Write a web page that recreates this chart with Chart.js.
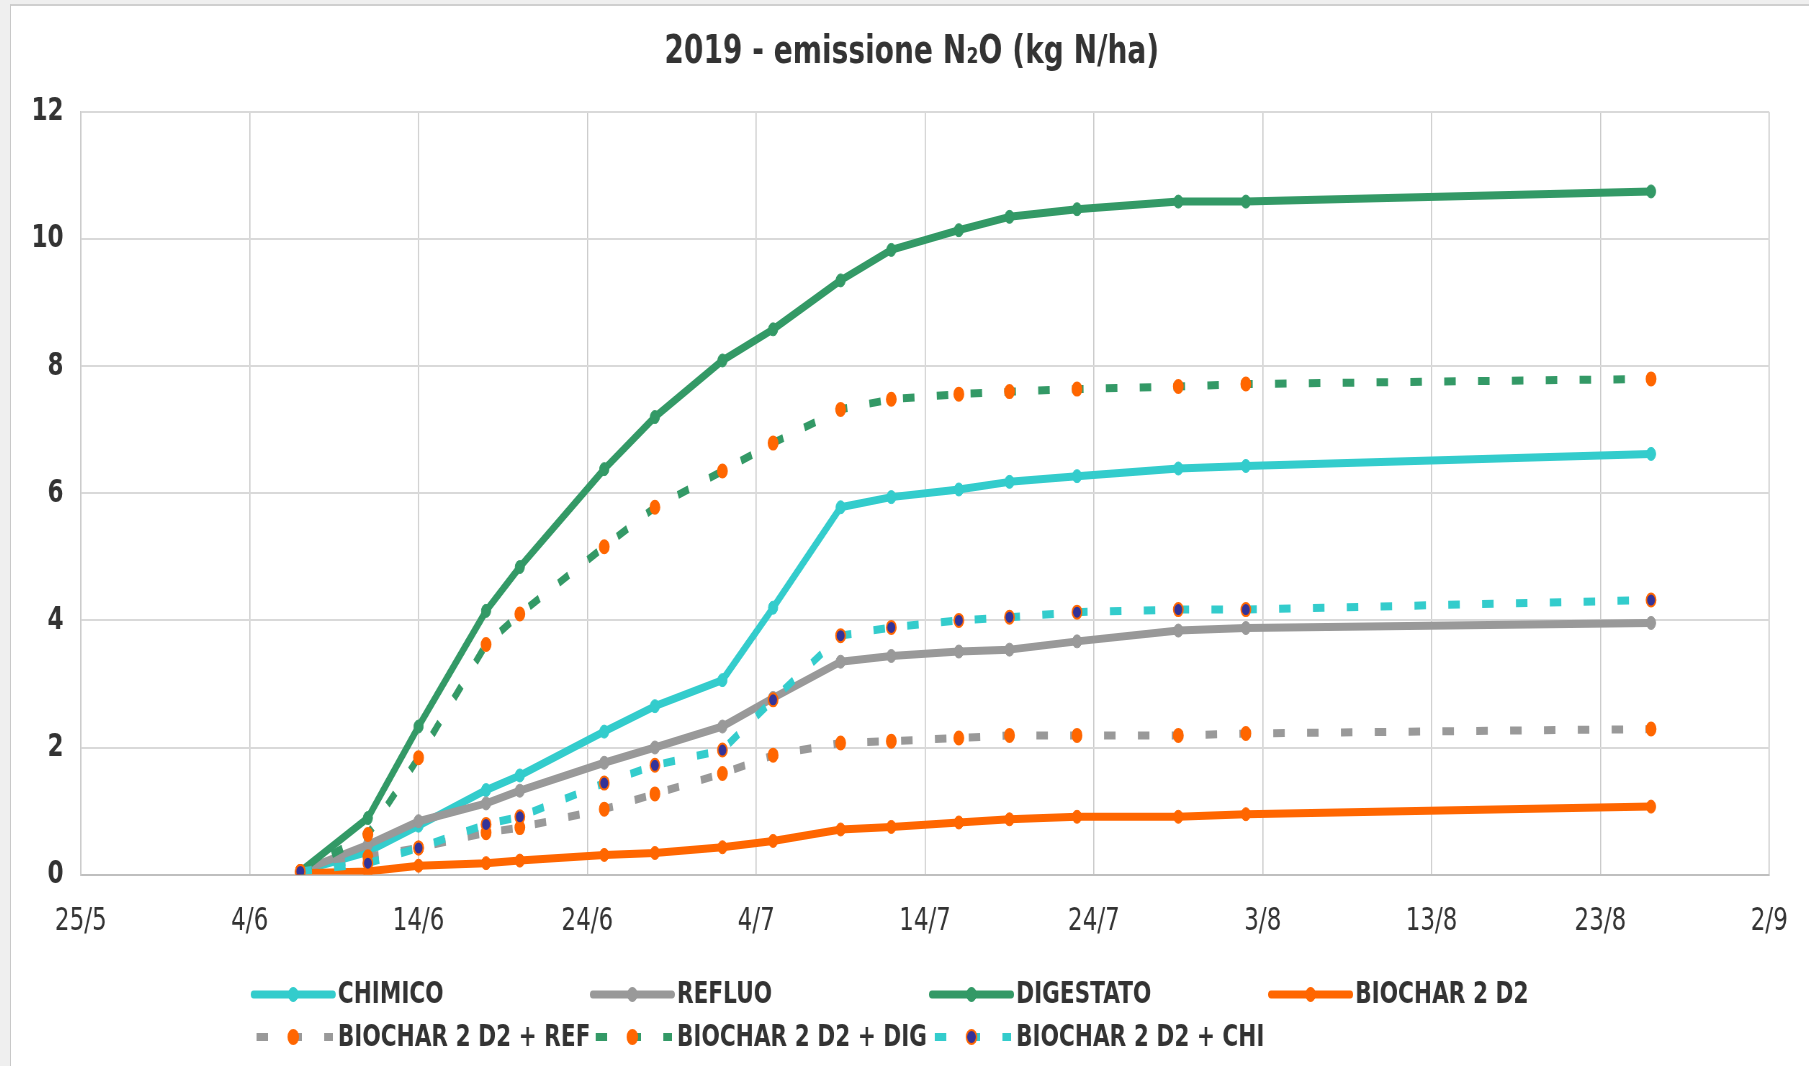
<!DOCTYPE html>
<html>
<head>
<meta charset="utf-8">
<script src="https://cdn.jsdelivr.net/npm/chart.js@4.4.1/dist/chart.umd.min.js"></script>
<style>
  html, body { margin: 0; padding: 0; background: #efefef; overflow: hidden; }
  #frame {
    position: absolute; left: 10px; top: 4px; width: 1799px; height: 1062px;
    background: #fff; border-left: 1px solid #c8c8c8; border-top: 2px solid #cfcfcf;
  }
  #chart {
    position: absolute; left: 0; top: 0;
    transform: scaleX(0.72); transform-origin: 0 0;
  }
</style>
</head>
<body>
<div id="frame"><canvas id="chart" width="2497" height="1060"></canvas></div>
<script>
const title = '2019 - emissione N\u2082O (kg N/ha)';

// sampling dates (day/month, 2019)
const dates = ['7/6', '11/6', '14/6', '18/6', '20/6', '25/6', '28/6', '2/7', '5/7',
               '9/7', '12/7', '16/7', '19/7', '23/7', '29/7', '2/8', '26/8'];

const tickLabels = ['25/5', '4/6', '14/6', '24/6', '4/7', '14/7', '24/7', '3/8', '13/8', '23/8', '2/9'];

const chimico    = [0.05, 0.36, 0.77, 1.33, 1.56, 2.25, 2.65, 3.06, 4.20, 5.78, 5.94, 6.06, 6.18, 6.27, 6.39, 6.43, 6.62];
const refluo     = [0.05, 0.47, 0.84, 1.12, 1.32, 1.76, 2.00, 2.33, 2.78, 3.35, 3.44, 3.51, 3.54, 3.67, 3.84, 3.88, 3.96];
const digestato  = [0.05, 0.89, 2.33, 4.15, 4.84, 6.38, 7.20, 8.09, 8.58, 9.35, 9.83, 10.14, 10.35, 10.47, 10.59, 10.59, 10.75];
const biochar    = [0.02, 0.05, 0.14, 0.18, 0.22, 0.31, 0.34, 0.43, 0.53, 0.71, 0.75, 0.82, 0.87, 0.91, 0.91, 0.95, 1.07];
const biocharRef = [0.05, 0.28, 0.42, 0.66, 0.74, 1.03, 1.27, 1.59, 1.88, 2.07, 2.10, 2.15, 2.19, 2.19, 2.19, 2.22, 2.29];
const biocharDig = [0.05, 0.63, 1.84, 3.62, 4.10, 5.16, 5.78, 6.35, 6.79, 7.32, 7.48, 7.56, 7.60, 7.64, 7.68, 7.72, 7.80];
const biocharChi = [0.05, 0.18, 0.42, 0.79, 0.91, 1.44, 1.72, 1.96, 2.75, 3.76, 3.89, 4.00, 4.05, 4.13, 4.17, 4.17, 4.32];

const { cyan, grey, green, orange, navy, text } = {
    cyan: '#33CCCC',
    grey: '#999999',
    green: '#339966',
    orange: '#FF6600',
    navy: '#333399',
    text: '#333333'
}

// days since 25/5, the origin of the x axis
const dayOf = (s) => {
    const [d, m] = s.split('/').map(Number);
    return Math.round((Date.UTC(2019, m - 1, d) - Date.UTC(2019, 4, 25)) / 86400000);
}
const xs = dates.map(dayOf);
const pts = (vals) => vals.map((v, i) => ({ x: xs[i], y: v }));

const solid = (label, vals, color, order) => ({
    label, data: pts(vals), order,
    borderColor: color, backgroundColor: color,
    borderWidth: 8, borderCapStyle: 'round', borderJoinStyle: 'round',
    pointRadius: 6.5, pointBackgroundColor: color, pointBorderColor: color, pointBorderWidth: 1,
    tension: 0
});
const dashed = (label, vals, color, fill, ring, order) => ({
    label, data: pts(vals), order,
    borderColor: color, backgroundColor: color,
    borderWidth: 8, borderDash: [16, 31], borderCapStyle: 'butt',
    pointRadius: 6.5, pointBackgroundColor: fill, pointBorderColor: ring, pointBorderWidth: 2,
    tension: 0
});

const datasets = [
    solid('CHIMICO', chimico, cyan, 7),
    solid('REFLUO', refluo, grey, 6),
    solid('DIGESTATO', digestato, green, 5),
    solid('BIOCHAR 2 D2', biochar, orange, 4),
    dashed('BIOCHAR 2 D2 + REF', biocharRef, grey, orange, orange, 3),
    dashed('BIOCHAR 2 D2 + DIG', biocharDig, green, orange, orange, 2),
    dashed('BIOCHAR 2 D2 + CHI', biocharChi, cyan, navy, orange, 1)
];

// title a bit right of the plot centre, and a legend in fixed columns, like the spreadsheet
const sheetDecor = {
    id: 'sheetDecor',
    afterDraw(chart) {
        const ctx = chart.ctx;
        ctx.save();
        ctx.fillStyle = text;
        ctx.font = 'bold 39px "DejaVu Sans"';
        ctx.textAlign = 'center';
        ctx.textBaseline = 'middle';
        ctx.fillText(title, 1251, 47);
        ctx.restore();

        chart.data.datasets.forEach((ds, i) => {
            const row = i < 4 ? 0 : 1;
            const col = i < 4 ? i : i - 4;
            const x0 = 337 + col * 471;
            const y = row ? 1031 : 988.5;
            ctx.save();
            ctx.strokeStyle = ds.borderColor;
            ctx.lineWidth = 8;
            if (ds.borderDash) {
                ctx.setLineDash(ds.borderDash);
                ctx.lineCap = 'butt';
            } else {
                ctx.lineCap = 'round';
            }
            ctx.beginPath();
            ctx.moveTo(x0 + (row ? 4 : 0), y);
            ctx.lineTo(x0 + 110, y);
            ctx.stroke();
            ctx.setLineDash([]);
            ctx.beginPath();
            ctx.arc(x0 + 55, y, 7, 0, Math.PI * 2);
            ctx.fillStyle = ds.pointBackgroundColor;
            ctx.fill();
            ctx.lineWidth = ds.pointBorderWidth;
            ctx.strokeStyle = ds.pointBorderColor;
            ctx.stroke();
            ctx.fillStyle = text;
            ctx.font = 'bold 30px "DejaVu Sans"';
            ctx.textBaseline = 'middle';
            ctx.textAlign = 'left';
            ctx.fillText(ds.label, x0 + 117, y + 1);
            ctx.restore();
        });
    }
};

new Chart(document.getElementById('chart'), {
    type: 'line',
    data: { datasets },
    plugins: [sheetDecor],
    options: {
        responsive: false,
        animation: false,
        devicePixelRatio: 1,
        layout: { padding: { left: 0, right: 55, top: 106, bottom: 97 } },
        plugins: {
            legend: { display: false },
            tooltip: { enabled: false },
            title: { display: false }
        },
        scales: {
            x: {
                type: 'linear',
                min: 0,
                max: 100,
                ticks: {
                    stepSize: 10,
                    autoSkip: false,
                    maxRotation: 0,
                    padding: 28,
                    color: text,
                    font: { family: 'DejaVu Sans', size: 32 },
                    callback: (v) => tickLabels[v / 10]
                },
                grid: { color: '#c9c9c9', lineWidth: 1.6, drawTicks: false },
                border: { color: '#bfbfbf', width: 2 }
            },
            y: {
                min: 0,
                max: 12,
                afterFit: (scale) => { scale.width = 97; },
                ticks: {
                    stepSize: 2,
                    padding: 24,
                    color: text,
                    font: { family: 'DejaVu Sans', weight: 'bold', size: 32 }
                },
                grid: { color: '#d9d9d9', lineWidth: 2, drawTicks: false },
                border: { color: '#cccccc', width: 1.6 }
            }
        }
    }
});
</script>
</body>
</html>
